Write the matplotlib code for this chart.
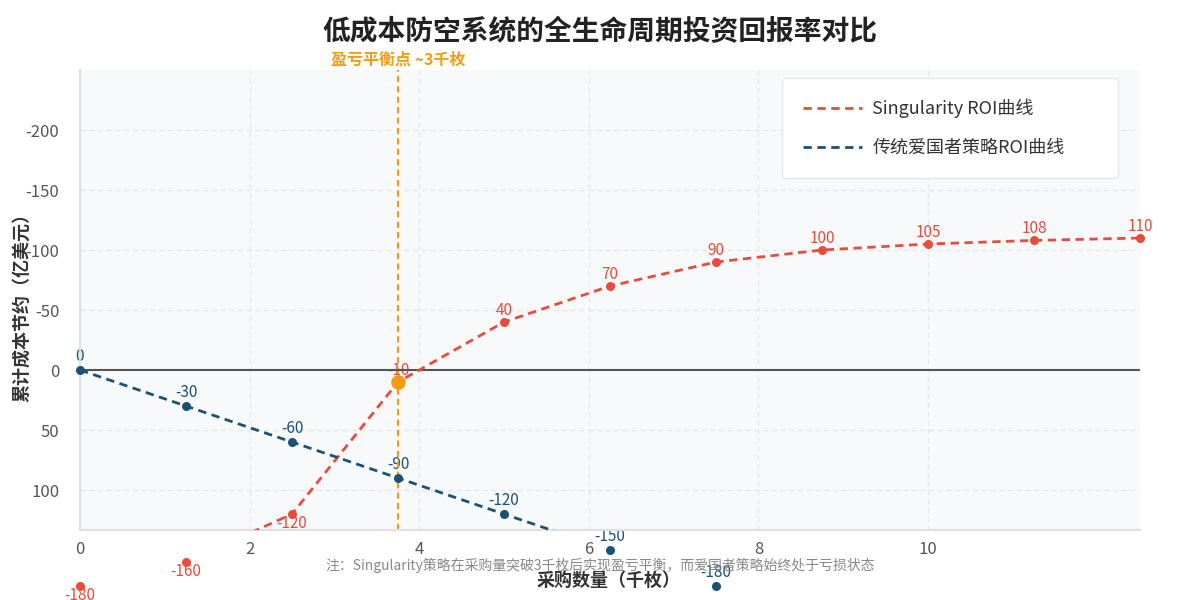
import matplotlib
matplotlib.use("Agg")
import matplotlib.pyplot as plt

plt.rcParams['font.family'] = ['Noto Sans CJK SC', 'DejaVu Sans']
plt.rcParams['axes.unicode_minus'] = False

# data (亿美元), x in 千枚
qty = [0, 1.25, 2.5, 3.75, 5, 6.25, 7.5, 8.75, 10, 11.25, 12.5]
singularity = [-180, -160, -120, -10, 40, 70, 90, 100, 105, 108, 110]
qty_patriot = [0, 1.25, 2.5, 3.75, 5, 6.25, 7.5]
patriot = [0, -30, -60, -90, -120, -150, -180]
breakeven_x = 3.75
breakeven_y = -10

RED = "#e74c3c"
BLUE = "#1a5276"
ORANGE = "#f39c12"


def main():
    fig = plt.figure(figsize=(12, 6), dpi=100)
    ax = fig.add_axes([80 / 1200, 70 / 600, 1060 / 1200, 460 / 600])
    ax.set_facecolor("#f8f9fa")

    # the chart plots negated savings on an inverted axis
    s_plot = [-v for v in singularity]
    p_plot = [-v for v in patriot]

    ax.plot(qty, s_plot, color=RED, lw=2, ls=(0, (3, 2)),
            label="Singularity ROI曲线", zorder=3)
    ax.plot(qty_patriot, p_plot, color=BLUE, lw=2, ls=(0, (3, 2)),
            label="传统爱国者策略ROI曲线", zorder=3)

    ax.scatter(qty, s_plot, s=30, color=RED, zorder=4, clip_on=False)
    ax.scatter(qty_patriot, p_plot, s=30, color=BLUE, zorder=4, clip_on=False)
    ax.scatter([breakeven_x], [-breakeven_y], s=90, color=ORANGE,
               zorder=5, clip_on=False)

    for x, v in zip(qty, singularity):
        dy = -6.5 if v < -50 else 8.5
        ax.annotate(str(v), (x, -v), xytext=(0, dy),
                    textcoords="offset points", ha="center", va="center",
                    color=RED, fontsize=11, annotation_clip=False, zorder=2)
    for x, v in zip(qty_patriot, patriot):
        ax.annotate(str(v), (x, -v), xytext=(0, 10),
                    textcoords="offset points", ha="center", va="center",
                    color=BLUE, fontsize=11, annotation_clip=False, zorder=2)

    ax.axhline(0, color="#555555", lw=1.5, zorder=2.5)
    ax.axvline(breakeven_x, color=ORANGE, lw=1.5, ls=(0, (3, 2)), zorder=2)
    ax.text(breakeven_x, 1.005, "盈亏平衡点 ~3千枚", transform=ax.get_xaxis_transform(),
            ha="center", va="bottom", color=ORANGE, fontsize=11.5, fontweight="bold")

    ax.set_xlim(0, 12.5)
    ax.set_ylim(133.3, -250)
    ax.set_xticks([0, 2, 4, 6, 8, 10])
    ax.set_yticks([-200, -150, -100, -50, 0, 50, 100])
    ax.tick_params(axis="both", length=0, labelsize=12, labelcolor="#555555")
    ax.tick_params(axis="x", pad=8)
    ax.tick_params(axis="y", pad=15)
    ax.grid(True, color="#e6e6e6", ls=(0, (4, 3)), lw=0.9)
    ax.set_axisbelow(True)
    for sp in ax.spines.values():
        sp.set_visible(False)
    for side in ("left", "bottom"):
        ax.spines[side].set_visible(True)
        ax.spines[side].set_color("#e0e0e0")
        ax.spines[side].set_linewidth(1.5)

    leg = ax.legend(loc="upper left", bbox_to_anchor=(0.6623, 0.0, 0.317, 0.9826),
                    mode="expand", borderaxespad=0, fontsize=13, frameon=True,
                    borderpad=1.15, labelspacing=1.15, handlelength=3.3,
                    handletextpad=0.55, fancybox=True)
    leg.get_frame().set_edgecolor("#e6e6e6")
    leg.get_frame().set_facecolor("white")
    leg.get_frame().set_alpha(1)
    for t in leg.get_texts():
        t.set_color("#333333")

    fig.text(0.5, 1 - 32 / 600, "低成本防空系统的全生命周期投资回报率对比", ha="center",
             va="center", fontsize=20, fontweight="bold", color="#222222")
    fig.text(0.507, 1 - 580 / 600, "采购数量（千枚）", ha="center", va="center",
             fontsize=13, fontweight="bold", color="#333333")
    fig.text(22 / 1200, 1 - 303 / 600, "累计成本节约（亿美元）", ha="center",
             va="center", rotation=90, fontsize=13, fontweight="bold",
             color="#333333")
    fig.text(0.5, 1 - 565 / 600,
             "注：Singularity策略在采购量突破3千枚后实现盈亏平衡，而爱国者策略始终处于亏损状态",
             ha="center", va="center", fontsize=10, color="#888888")

    fig.savefig("out.png", dpi=100)


if __name__ == "__main__":
    main()
